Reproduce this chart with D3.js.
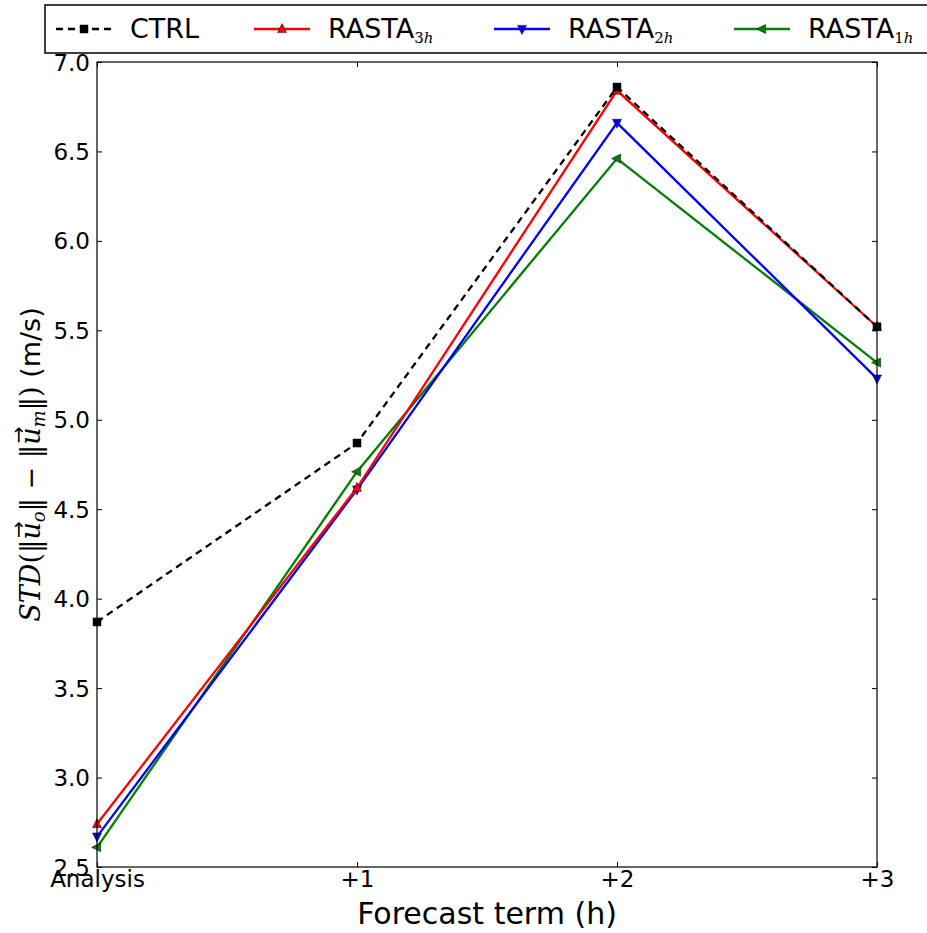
<!DOCTYPE html>
<html><head><meta charset="utf-8">
<script src="https://cdn.jsdelivr.net/npm/d3@7"></script>
<style>body{margin:0;background:#fff;} svg{display:block;font-family:"DejaVu Sans",sans-serif;}</style>
</head><body>
<svg id="c" width="927" height="933"></svg>
<script>
const categories = ["Analysis", "+1", "+2", "+3"];
const yTicks = [2.5, 3.0, 3.5, 4.0, 4.5, 5.0, 5.5, 6.0, 6.5, 7.0];
const ctrl   = [3.87, 4.87, 6.86, 5.52];
const rasta3 = [2.74, 4.62, 6.84, 5.52];
const rasta2 = [2.67, 4.61, 6.66, 5.23];
const rasta1 = [2.61, 4.71, 6.46, 5.32];

const seriesList = [
  {name:"CTRL", sub:"", values:ctrl, color:"#000", dash:"7,5", marker:"square"},
  {name:"RASTA", sub:"3h", values:rasta3, color:"#ff0000", dash:null, marker:"up"},
  {name:"RASTA", sub:"2h", values:rasta2, color:"#0000ff", dash:null, marker:"down"},
  {name:"RASTA", sub:"1h", values:rasta1, color:"#008000", dash:null, marker:"left"}
];

const svg = d3.select("#c");
const L = 97, R = 877, T = 62, B = 867;
const x = d3.scalePoint().domain(categories).range([L, R]);
const y = d3.scaleLinear().domain([2.5, 7.0]).range([B, T]);

function markerPath(type, s) {
  if (type === "square") return `M${-s},${-s}H${s}V${s}H${-s}Z`;
  if (type === "up") return `M0,${-s*1.2}L${s},${s*0.8}L${-s},${s*0.8}Z`;
  if (type === "down") return `M0,${s*1.2}L${s},${-s*0.8}L${-s},${-s*0.8}Z`;
  if (type === "left") return `M${-s*1.2},0L${s*0.8},${-s}L${s*0.8},${s}Z`;
}

// lines
const line = d3.line().x((d,i)=>x(categories[i])).y(d=>y(d));
const g = svg.append("g");
seriesList.slice().reverse().forEach(s => {
  g.append("path").attr("d", line(s.values)).attr("fill","none")
    .attr("stroke", s.color).attr("stroke-width", 2.3)
    .attr("stroke-dasharray", s.dash);
});
seriesList.slice().reverse().forEach(s => {
  g.selectAll(null).data(s.values).enter().append("path")
    .attr("d", markerPath(s.marker, s.marker==="square"?4:4.5))
    .attr("transform", (d,i)=>`translate(${x(categories[i])},${y(d)})`)
    .attr("fill", s.color).attr("stroke","#000").attr("stroke-width",0.5);
});

// frame
svg.append("rect").attr("x",L).attr("y",T).attr("width",R-L).attr("height",B-T)
  .attr("fill","none").attr("stroke","#000").attr("stroke-width",1.2);

// axes with inward ticks
const yAxis = d3.axisLeft(y).tickValues(yTicks).tickFormat(d3.format(".1f")).tickSize(-5).tickPadding(7);
const ya = svg.append("g").attr("transform",`translate(${L},0)`).call(yAxis);
const yAxisR = d3.axisRight(y).tickValues(yTicks).tickFormat("").tickSize(-5);
const yr = svg.append("g").attr("transform",`translate(${R},0)`).call(yAxisR);
const xAxis = d3.axisBottom(x).tickSize(-5).tickPadding(8);
const xa = svg.append("g").attr("transform",`translate(0,${B})`).call(xAxis);
const xAxisT = d3.axisTop(x).tickSize(-5).tickFormat("");
const xt = svg.append("g").attr("transform",`translate(0,${T})`).call(xAxisT);
[ya,yr,xa,xt].forEach(a=>{ a.select(".domain").remove(); a.selectAll("line").attr("stroke","#000").attr("stroke-width",1); });
ya.selectAll("text").attr("font-size",23).attr("font-family","DejaVu Sans").attr("fill","#000").attr("dy","0.35em");
xa.selectAll("text").attr("font-size",23).attr("font-family","DejaVu Sans").attr("fill","#000").attr("dy","0.5em");

// x label
svg.append("text").attr("x",(L+R)/2).attr("y",924).attr("text-anchor","middle")
  .attr("font-size",30).attr("fill","#000").text("Forecast term (h)");

// y label
const yl = svg.append("text").attr("transform",`translate(40,${(T+B)/2}) rotate(-90)`)
  .attr("text-anchor","middle").attr("font-size",27).attr("fill","#000");
const ser = "DejaVu Serif";
yl.append("tspan").attr("font-family",ser).attr("font-style","italic").text("STD");
yl.append("tspan").attr("font-family",ser).text("(‖");
function vecU(sub) {
  yl.append("tspan").attr("font-family",ser).attr("font-style","italic").text("u");
  yl.append("tspan").attr("font-family","DejaVu Sans").attr("font-size",20).attr("dx",-16).attr("dy",-15).text("→");
  yl.append("tspan").attr("font-family",ser).attr("font-style","italic").attr("font-size",18).attr("dx",-1).attr("dy",20).text(sub);
  yl.append("tspan").attr("font-family",ser).attr("dy",-5).text("‖");
}
vecU("o");
yl.append("tspan").attr("font-family",ser).text(" − ‖");
vecU("m");
yl.append("tspan").attr("font-family",ser).text(")");
yl.append("tspan").attr("font-family","DejaVu Sans").text(" (m/s)");

// legend
const lg = svg.append("g");
lg.append("rect").attr("x",45).attr("y",5).attr("width",900).attr("height",48)
  .attr("fill","#fff").attr("stroke","#000").attr("stroke-width",1.5);
const legX = [56, 254, 494, 734];
seriesList.forEach((s,i)=>{
  const gx = legX[i], gy = 29;
  lg.append("line").attr("x1",gx).attr("x2",gx+56).attr("y1",gy).attr("y2",gy)
    .attr("stroke",s.color).attr("stroke-width",2.3).attr("stroke-dasharray",s.dash);
  lg.append("path").attr("d",markerPath(s.marker, s.marker==="square"?4:4.5))
    .attr("transform",`translate(${gx+28},${gy})`).attr("fill",s.color).attr("stroke","#000").attr("stroke-width",0.5);
  const t = lg.append("text").attr("x",gx+74).attr("y",gy+9).attr("font-size",27).attr("fill","#000").text(s.name);
  if (s.sub) {
    t.append("tspan").attr("font-family",ser).attr("font-size",15).attr("dy",5)
      .text(s.sub[0]).append("tspan").attr("font-style","italic").text(s.sub.slice(1));
  }
});
</script>
</body></html>
